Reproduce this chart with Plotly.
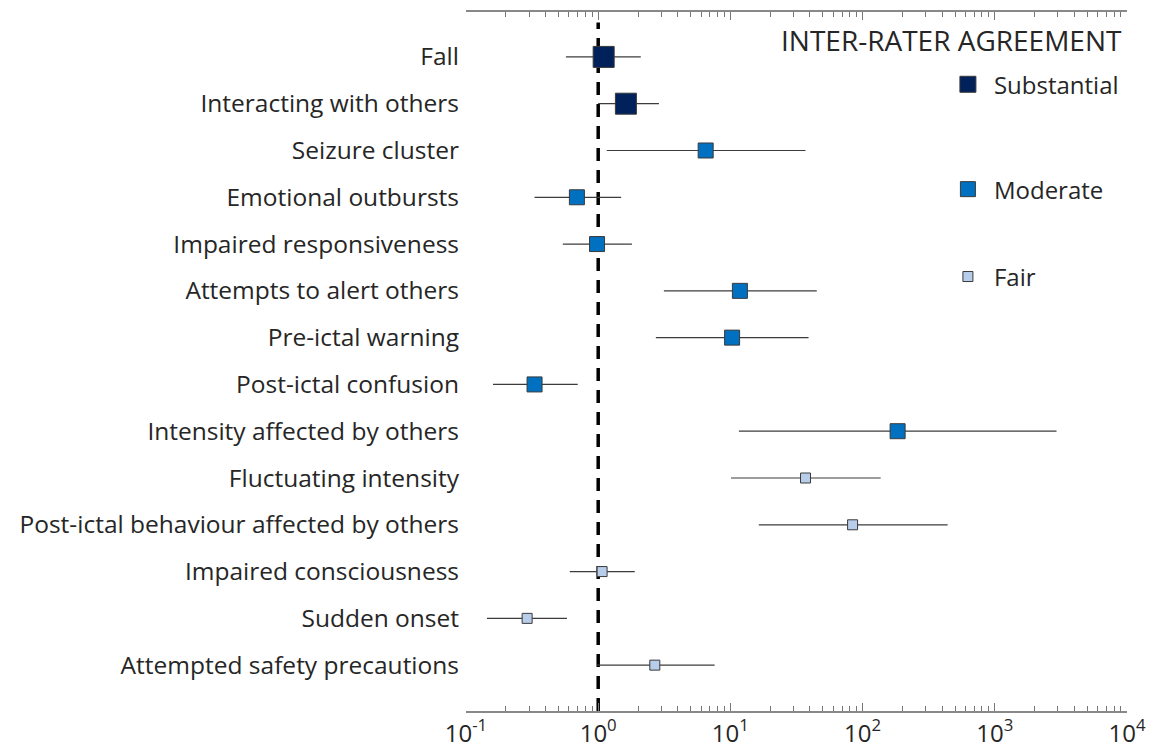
import plotly.graph_objects as go

# Seizure characteristics, top to bottom
labels = [
    "Fall",
    "Interacting with others",
    "Seizure cluster",
    "Emotional outbursts",
    "Impaired responsiveness",
    "Attempts to alert others",
    "Pre-ictal warning",
    "Post-ictal confusion",
    "Intensity affected by others",
    "Fluctuating intensity",
    "Post-ictal behaviour affected by others",
    "Impaired consciousness",
    "Sudden onset",
    "Attempted safety precautions",
]
# Point estimate and 95% CI (lower, upper)
estimate = [1.1, 1.62, 6.5, 0.69, 0.98, 11.8, 10.3, 0.33, 184, 37, 84, 1.07, 0.29, 2.68]
ci_low = [0.57, 1.0, 1.16, 0.33, 0.54, 3.14, 2.73, 0.16, 11.6, 10.1, 16.4, 0.61, 0.144, 0.98]
ci_high = [2.1, 2.88, 37, 1.49, 1.8, 45, 39, 0.70, 2930, 137, 440, 1.89, 0.58, 7.6]
agreement = ["Substantial", "Substantial", "Moderate", "Moderate", "Moderate", "Moderate",
             "Moderate", "Moderate", "Moderate", "Fair", "Fair", "Fair", "Fair", "Fair"]

levels = ["Substantial", "Moderate", "Fair"]
colors = {"Substantial": "#00215A", "Moderate": "#0070C0", "Fair": "#B8CDEA"}
sizes = {"Substantial": 21, "Moderate": 15, "Fair": 10}
legend_ids = {"Substantial": "legend", "Moderate": "legend2", "Fair": "legend3"}

FONT = "Open Sans"
fig = go.Figure()

for lvl in levels:
    idx = [i for i, a in enumerate(agreement) if a == lvl]
    x = [estimate[i] for i in idx]
    fig.add_trace(go.Scatter(
        x=x,
        y=[i for i in idx],
        mode="markers",
        name=lvl,
        legend=legend_ids[lvl],
        marker=dict(symbol="square", size=sizes[lvl], color=colors[lvl],
                    line=dict(color="#3a3a3a", width=1)),
        error_x=dict(type="data", symmetric=False,
                     array=[ci_high[i] - estimate[i] for i in idx],
                     arrayminus=[estimate[i] - ci_low[i] for i in idx],
                     color="#3c3c3c", thickness=1.2, width=0),
    ))

# Reference line at ratio = 1, drawn beneath the markers
fig.add_shape(type="line", xref="x", yref="paper", x0=1, x1=1, y0=0, y1=0.985,
              layer="below", line=dict(color="black", width=3.5, dash="13px,9px"))

fig.add_annotation(text="INTER-RATER AGREEMENT", xref="paper", yref="paper",
                   x=0.995, y=0.99, xanchor="right", yanchor="top", showarrow=False,
                   font=dict(family=FONT, size=28, color="#262626"))

legend_y = {"legend": 0.896, "legend2": 0.746, "legend3": 0.621}
leg_common = dict(x=0.72, xanchor="left", yanchor="middle", bgcolor="rgba(0,0,0,0)",
                  font=dict(family=FONT, size=24, color="#262626"), itemwidth=42)

major = [0.1, 1, 10, 100, 1000, 10000]
major_text = ["10<sup>-1</sup>", "10<sup>0</sup>", "10<sup>1</sup>", "10<sup>2</sup>",
              "10<sup>3</sup>", "10<sup>4</sup>"]
minor = [m * d for d in [0.1, 1, 10, 100, 1000] for m in range(2, 10)]

fig.update_layout(
    width=1151, height=748,
    margin=dict(l=466, r=24, t=12, b=37),
    plot_bgcolor="white", paper_bgcolor="white",
    showlegend=True,
    legend=dict(y=legend_y["legend"], **leg_common),
    legend2=dict(y=legend_y["legend2"], **leg_common),
    legend3=dict(y=legend_y["legend3"], **leg_common),
    xaxis=dict(type="log", range=[-1, 4], tickmode="array", tickvals=major, ticktext=major_text,
               ticks="inside", ticklen=8, tickcolor="#777", tickwidth=1,
               minor=dict(tickmode="array", tickvals=minor, ticks="inside", ticklen=5,
                          tickcolor="#777", tickwidth=1, showgrid=False),
               showline=True, linecolor="#888", linewidth=1.5, mirror="ticks",
               showgrid=False, zeroline=False, automargin=False,
               tickfont=dict(family=FONT, size=24, color="#262626")),
    yaxis=dict(range=[13.98, -0.96], tickmode="array", tickvals=list(range(len(labels))),
               ticktext=labels, showgrid=False, zeroline=False, showline=False, ticks="",
               ticklabelstandoff=6, automargin=False,
               tickfont=dict(family=FONT, size=24.5, color="#262626")),
)

fig.write_html("out.html")
